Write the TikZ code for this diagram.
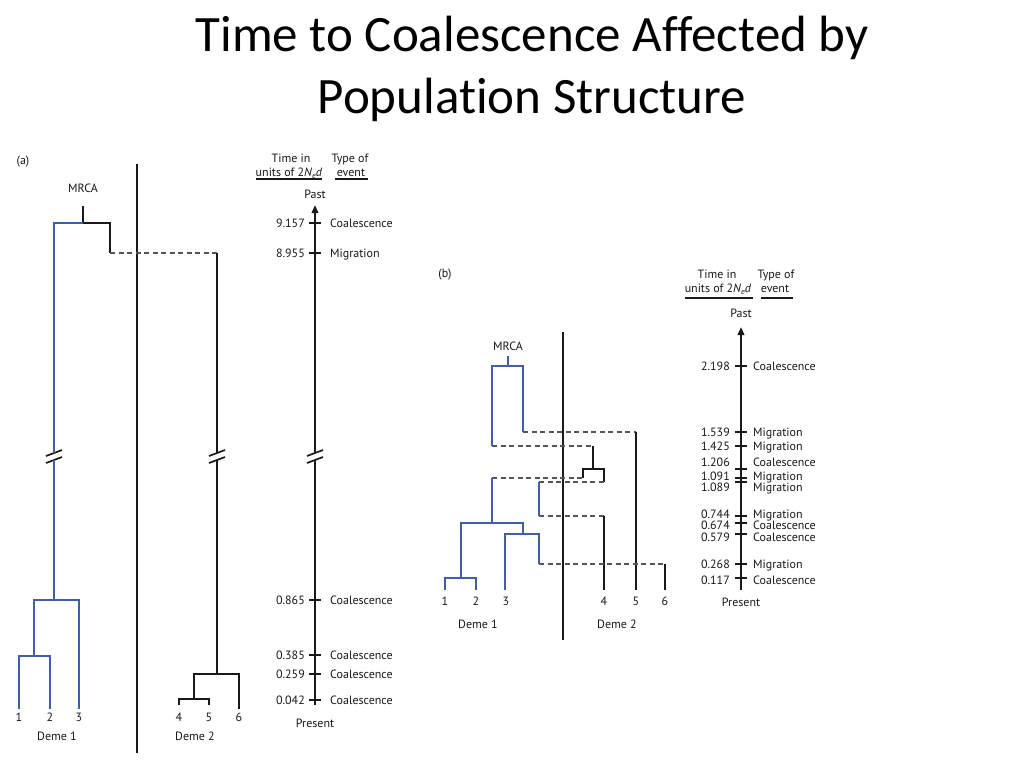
\documentclass[tikz,border=0pt]{standalone}
\usepackage{fontspec}
\setmainfont{PT Sans}
\newfontfamily\titlefont[Ligatures={NoCommon}]{Carlito}
\usetikzlibrary{arrows.meta}
\definecolor{treeblue}{RGB}{62,96,168}
\definecolor{ink}{RGB}{25,25,25}
\definecolor{dashgray}{RGB}{85,85,85}
\newcommand{\unitsline}{units of 2\textit{N}\raisebox{-0.35ex}{\fontsize{8}{9}\selectfont\textit{e}}\textit{d}}
\begin{document}
\begin{tikzpicture}[x=1pt,y=-1pt,
  tree/.style={line width=2.2pt, draw=ink},
  btree/.style={line width=2.2pt, draw=treeblue},
  mig/.style={line width=1.1pt, draw=dashgray, dash pattern=on 5pt off 3.5pt},
  timeaxis/.style={line width=2.2pt, draw=ink, -{Triangle[length=8pt,width=6.5pt]}},
  tickmark/.style={line width=1.7pt, draw=ink},
  lbl/.style={font=\fontsize{12}{14}\selectfont, text=ink, inner sep=0pt, text height=9pt, text depth=1pt},
  num/.style={lbl, anchor=east},
  evt/.style={lbl, anchor=west},
  brk/.style={line width=1.7pt, draw=ink},
  rule/.style={line width=1.5pt, draw=ink}]
\useasboundingbox (0,0) rectangle (1024,768);
\fill[white] (0,0) rectangle (1024,768);

% ---------- title ----------
\node[font=\titlefont\fontsize{51}{61}\selectfont, anchor=base, inner sep=0pt] (title1) at (532,52) {Time to Coalescence Affected by};
\node[font=\titlefont\fontsize{51}{61}\selectfont, anchor=base, inner sep=0pt] (title2) at (532,113) {Population Structure};

% ================= panel (a) =================
\node[lbl] (alab) at (23,160) {(a)};
\node[lbl] (amrca) at (83,188) {MRCA};
\node[lbl] (ahd1) at (291,158) {Time in};
\node[lbl] (ahd2) at (289,172) {\unitsline};
\node[lbl] (ahd3) at (350,158) {Type of};
\node[lbl] (ahd4) at (351,172) {event};
\draw[rule] (256,179) -- (322,179);
\draw[rule] (335,179) -- (368,179);
\node[lbl] (apast) at (315,194) {Past};
\node[lbl] (apresent) at (315,723) {Present};

% divider
\coordinate (adivtop) at (137,164);
\coordinate (adivbot) at (137,753);
\draw[tree] (adivtop) -- (adivbot);

% axis with break
\coordinate (aaxbot) at (315,705);
\coordinate (aaxtop) at (315,205);
\draw[tree] (aaxbot) -- (315,460);
\draw[timeaxis] (315,453) -- (aaxtop);
\foreach \x in {54,217,315}{
  \draw[brk] (\x-8,456) -- (\x+8,450);
  \draw[brk] (\x-8,463) -- (\x+8,457);
}
\foreach \y/\n/\e [count=\i] in {223/9.157/Coalescence,253/8.955/Migration,600/0.865/Coalescence,655/0.385/Coalescence,674/0.259/Coalescence,700/0.042/Coalescence}{
  \draw[tickmark] (309,\y) -- (321,\y);
  \node[num] (an\i) at (305,\y) {\n};
  \node[evt] (ae\i) at (330,\y) {\e};
}

% tree (a)
\coordinate (amroot) at (83,223);
\draw[tree] (83,206) -- (amroot);
\draw[btree] (54,600) -- (54,460);
\draw[btree] (54,453) -- (54,223) -- (amroot);
\draw[tree] (amroot) -- (110,223) -- (110,253);
\coordinate (amig1) at (110,253);
\coordinate (amig2) at (217,253);
\draw[mig] (amig1) -- (amig2);
\draw[tree] (amig2) -- (217,453);
\draw[tree] (217,460) -- (217,674);
\draw[tree] (194,699) -- (194,674) -- (239,674) -- (239,709);
\draw[tree] (179,705) -- (179,699) -- (209,699) -- (209,705);
\draw[btree] (34,656) -- (34,600) -- (79,600) -- (79,709);
\draw[btree] (19,709) -- (19,656) -- (50,656) -- (50,709);
\foreach \x/\t [count=\i] in {19/1,50/2,79/3,179/4,209/5,239/6}{
  \node[lbl] (aleaf\i) at (\x,717) {\t};
}
\node[lbl] (ademe1) at (57,736) {Deme 1};
\node[lbl] (ademe2) at (195,736) {Deme 2};

% ================= panel (b) =================
\node[lbl] (blab) at (445,273) {(b)};
\node[lbl] (bmrca) at (508,346) {MRCA};
\node[lbl] (bhd1) at (717,274) {Time in};
\node[lbl] (bhd2) at (718,288) {\unitsline};
\node[lbl] (bhd3) at (776,274) {Type of};
\node[lbl] (bhd4) at (775,288) {event};
\draw[rule] (685,298) -- (753,298);
\draw[rule] (761,298) -- (793,298);
\node[lbl] (bpast) at (741,313) {Past};
\node[lbl] (bpresent) at (741,602) {Present};

\coordinate (bdivtop) at (563,332);
\coordinate (bdivbot) at (563,640);
\draw[tree] (bdivtop) -- (bdivbot);

\coordinate (baxbot) at (741,590);
\coordinate (baxtop) at (741,327);
\draw[timeaxis] (baxbot) -- (baxtop);
\foreach \y in {366,432,446,469,478,482,516,523,534,564,578}{
  \draw[tickmark] (735,\y) -- (747,\y);
}
\foreach \y/\n/\e [count=\i] in {366/2.198/Coalescence,432/1.539/Migration,446/1.425/Migration,462/1.206/Coalescence,476/1.091/Migration,487/1.089/Migration,514/0.744/Migration,525/0.674/Coalescence,537/0.579/Coalescence,564/0.268/Migration,580/0.117/Coalescence}{
  \node[num] (bn\i) at (730,\y) {\n};
  \node[evt] (be\i) at (753,\y) {\e};
}

% tree (b)
\draw[btree] (508,356) -- (508,366);
\draw[btree] (492,446) -- (492,366) -- (523,366) -- (523,432);
\draw[mig] (523,432) -- (636,432);
\draw[tree] (636,432) -- (636,590);
\draw[mig] (492,446) -- (593,446);
\draw[tree] (593,446) -- (593,469);
\draw[tree] (583,478) -- (583,469) -- (604,469) -- (604,482);
\draw[mig] (492,478) -- (583,478);
\draw[btree] (492,478) -- (492,523);
\draw[mig] (539,482) -- (604,482);
\draw[btree] (539,482) -- (539,516);
\draw[mig] (539,516) -- (604,516);
\draw[tree] (604,516) -- (604,590);
\draw[btree] (461,578) -- (461,523) -- (523,523) -- (523,534);
\draw[btree] (505,590) -- (505,534) -- (539,534) -- (539,564);
\draw[mig] (539,564) -- (665,564);
\draw[tree] (665,564) -- (665,590);
\draw[btree] (445,590) -- (445,578) -- (476,578) -- (476,590);
\foreach \x/\t [count=\i] in {445/1,476/2,506/3,604/4,636/5,665/6}{
  \node[lbl] (bleaf\i) at (\x,601) {\t};
}
\node[lbl] (bdeme1) at (478,624) {Deme 1};
\node[lbl] (bdeme2) at (617,624) {Deme 2};
\end{tikzpicture}
\end{document}
